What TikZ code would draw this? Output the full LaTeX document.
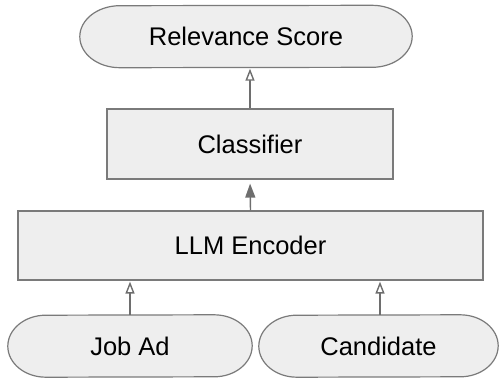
\documentclass[tikz,border=0pt]{standalone}
\usepackage{fontspec}
\setmainfont{Liberation Sans}
\usetikzlibrary{arrows.meta,calc}
\definecolor{boxfill}{HTML}{EEEEEE}
\definecolor{boxline}{HTML}{7A7A7A}
\definecolor{arrline}{HTML}{6E6E6E}
\tikzset{
  base/.style={draw=boxline, fill=boxfill, line width=1.2pt, inner sep=0pt,
    font=\fontsize{25.5}{30}\selectfont, text=black},
  pill/.style={inner sep=0pt, minimum height=62pt, font=\fontsize{25.5}{30}\selectfont, text=black},
  pillline/.style={draw=boxline, fill=boxfill, line width=1.2pt},
  boxnode/.style={base},
  openarr/.style={draw=arrline, line width=1.4pt, shorten >=1pt, -{Triangle[open, length=12pt, width=9pt, fill=white]}},
  fillarr/.style={draw=arrline, line width=1.4pt, shorten >=4pt, -{Triangle[length=14pt, width=10pt]}},
}
\newcommand{\pillshape}[2]{%
  \path[pillline] ($(#1.north east)+(-#2,0)$)
    arc[start angle=90, end angle=-90, x radius=#2pt, y radius=31pt]
    -- ($(#1.south west)+(#2,0)$)
    arc[start angle=270, end angle=90, x radius=#2pt, y radius=31pt]
    -- cycle;}
\begin{document}
\begin{tikzpicture}[x=1pt,y=-1pt]
\useasboundingbox (0,0) rectangle (499,380);
\path (246,36.5) node[pill, minimum width=332pt] (score) {};
\pillshape{score}{40}
\node[pill, minimum width=332pt] at (score) {Relevance Score};
\node[boxnode, minimum width=286pt, minimum height=70pt] (cls) at (250,144) {Classifier};
\node[boxnode, minimum width=465pt, minimum height=69pt] (enc) at (250.5,245.5) {LLM Encoder};
\path (130,346) node[pill, minimum width=244pt] (job) {};
\pillshape{job}{38}
\node[pill] at (job) {Job Ad};
\path (378.5,346) node[pill, minimum width=239pt] (cand) {};
\pillshape{cand}{38}
\node[pill] at (cand) {Candidate};
\draw[openarr] (cls.north) -- (score.south -| cls.north);
\draw[fillarr] (enc.north) -- (cls.south);
\draw[openarr] (job.north) -- (enc.south -| job.north);
\draw[openarr] (cand.north -| 380,0) -- (enc.south -| 380,0);
\end{tikzpicture}
\end{document}
